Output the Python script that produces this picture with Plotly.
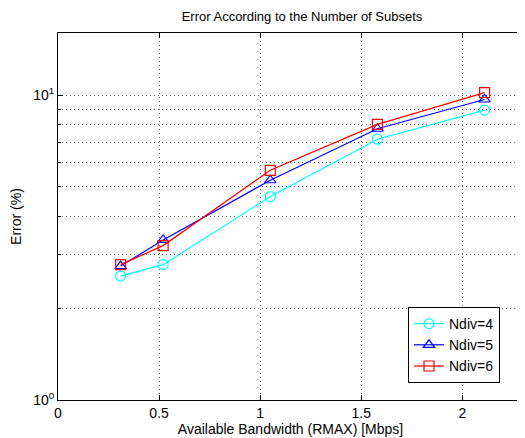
import plotly.graph_objects as go

bandwidth = [0.31, 0.52, 1.05, 1.58, 2.11]
err_ndiv4 = [2.55, 2.78, 4.65, 7.17, 8.93]
err_ndiv5 = [2.75, 3.35, 5.26, 7.76, 9.68]
err_ndiv6 = [2.78, 3.21, 5.67, 8.02, 10.2]
series_names = ["Ndiv=4", "Ndiv=5", "Ndiv=6"]
x_ticks = [0, 0.5, 1, 1.5, 2]
x_tick_labels = ["0", "0.5", "1", "1.5", "2"]
y_ticks = [1, 10]
y_tick_labels = ["10<sup>0</sup>", "10<sup>1</sup>"]
y_minor = [2, 3, 4, 5, 6, 7, 8, 9]

font = "Liberation Sans, Arial, Helvetica, sans-serif"
fig = go.Figure()
styles = [("#00FFFF", "circle-open"), ("#0000FF", "triangle-up-open"), ("#FF0000", "square-open")]
for name, ys, (c, sym) in zip(series_names, [err_ndiv4, err_ndiv5, err_ndiv6], styles):
    fig.add_trace(go.Scatter(x=bandwidth, y=ys, name=name, mode="lines+markers",
                             line=dict(color=c, width=1.2),
                             marker=dict(symbol=sym, size=10, color=c, line=dict(color=c, width=1.2))))

grid = "rgba(0,0,0,0.55)"
W, H = 517, 430  # page body has an 8px margin
fig.update_layout(
    width=W, height=H,
    margin=dict(l=50, r=2, t=25, b=38, autoexpand=False),
    paper_bgcolor="white", plot_bgcolor="white",
    font=dict(family=font, size=14, color="black"),
    title=dict(text="Error According to the Number of Subsets", x=294 / W, xanchor="center",
               y=1 - 8 / H, yanchor="middle", font=dict(size=13)),
    xaxis=dict(range=[0, 2.3], tickvals=x_ticks, ticktext=x_tick_labels,
               showline=True, linecolor="black", linewidth=1, mirror="ticks",
               ticks="inside", ticklen=5, tickcolor="black",
               showgrid=True, gridcolor=grid, griddash="1px,3px", gridwidth=1,
               zeroline=False, automargin=False, tickfont=dict(size=14),
               title=dict(text="Available Bandwidth (RMAX) [Mbps]", standoff=3, font=dict(size=14))),
    yaxis=dict(type="log", range=[0, 1.204], tickvals=y_ticks, ticktext=y_tick_labels,
               showline=True, linecolor="black", linewidth=1, mirror="ticks",
               ticks="inside", ticklen=5, tickcolor="black",
               showgrid=True, gridcolor=grid, griddash="1px,3px", gridwidth=1,
               zeroline=False, automargin=False, tickfont=dict(size=14),
               minor=dict(tickvals=y_minor, ticks="inside", ticklen=3, tickcolor="black",
                          showgrid=True, gridcolor=grid, griddash="1px,3px", gridwidth=1),
               title=dict(text="Error (%)", standoff=9, font=dict(size=14))),
    legend=dict(x=(500 - 58) / 465, xanchor="right", y=(400 - 383) / 367, yanchor="bottom",
                bgcolor="white", bordercolor="black", borderwidth=1,
                font=dict(size=14), tracegroupgap=0, itemwidth=30),
    showlegend=True,
)
fig.write_html("out.html")
